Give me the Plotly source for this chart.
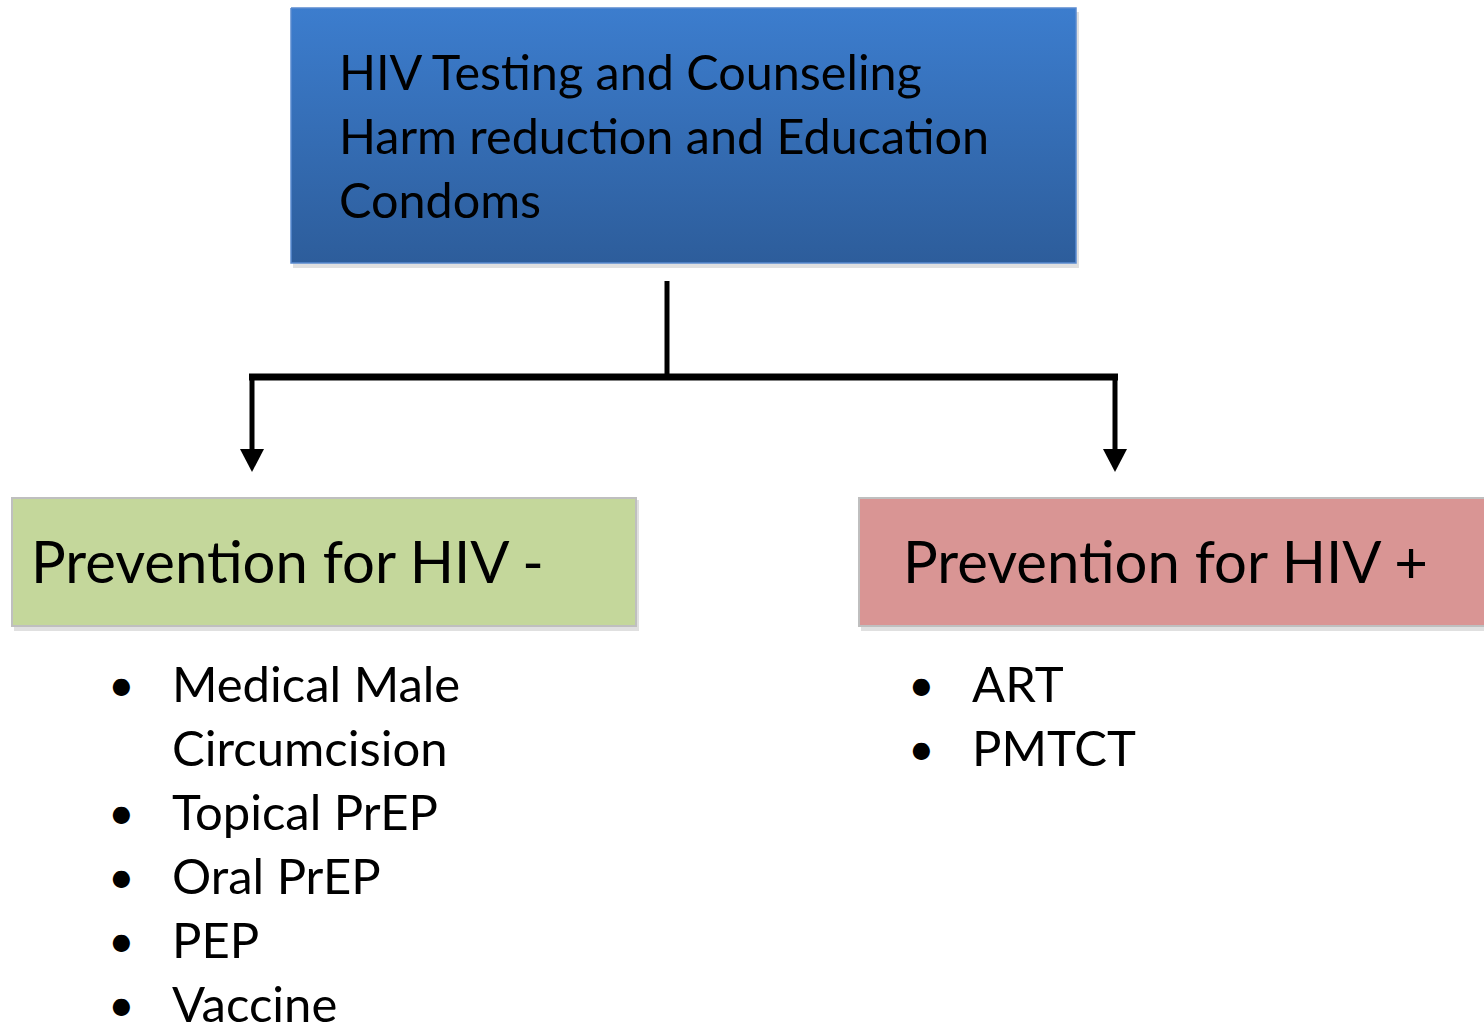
import plotly.graph_objects as go

W, H = 1484, 1023

# Content
top_items = ["HIV Testing and Counseling", "Harm reduction and Education", "Condoms"]
left_header = "Prevention for HIV -"
right_header = "Prevention for HIV +"
left_items = [["Medical Male", "Circumcision"], ["Topical PrEP"], ["Oral PrEP"], ["PEP"], ["Vaccine"]]
right_items = [["ART"], ["PMTCT"]]

FONT = "Lato"
TXT = "#000000"

fig = go.Figure()

# top box with vertical gradient
tx0, tx1, ty0, ty1 = 291, 1076, 8, 263
fig.add_shape(type="rect", x0=tx0 + 2, x1=tx1 + 3, y0=ty0 + 4, y1=ty1 + 5,
              fillcolor="rgba(0,0,0,0.12)", line_width=0, layer="below")
fig.add_trace(go.Scatter(
    x=[tx0, tx1, tx1, tx0, tx0], y=[ty0, ty0, ty1, ty1, ty0],
    mode="lines", fill="toself",
    fillgradient=dict(type="vertical", colorscale=[[0, "#2D5D9B"], [1, "#3C7DCE"]]),
    line=dict(color="#5A8AD0", width=1.5), hoverinfo="skip", showlegend=False))

# connectors
LC = "#000000"
fig.add_shape(type="line", x0=667, x1=667, y0=281, y1=377, line=dict(color=LC, width=5))
fig.add_shape(type="line", x0=249, x1=1118, y0=377, y1=377, line=dict(color=LC, width=7))
for xx in (252, 1115):
    fig.add_shape(type="line", x0=xx, x1=xx, y0=377, y1=452, line=dict(color=LC, width=5))
    fig.add_shape(type="path", path=f"M {xx-12} 449 L {xx+12} 449 L {xx} 472 Z",
                  fillcolor=LC, line_width=0)

# category boxes
boxes = [(12, 636, "#C4D79B", left_header, 29), (859, 1490, "#D99594", right_header, 901)]
for x0, x1, col, label, tx in boxes:
    fig.add_shape(type="rect", x0=x0 + 2, x1=x1 + 3, y0=500, y1=631,
                  fillcolor="rgba(0,0,0,0.12)", line_width=0, layer="below")
    fig.add_shape(type="rect", x0=x0, x1=x1, y0=498, y1=626, fillcolor=col,
                  line=dict(color="#BFBFBF", width=2), layer="below")
    fig.add_annotation(x=tx, y=560, text=label, showarrow=False, xanchor="left",
                       yanchor="middle", font=dict(family=FONT, size=58, color=TXT))

# top text
for i, t in enumerate(top_items):
    fig.add_annotation(x=337, y=71 + 64 * i, text=t, showarrow=False, xanchor="left",
                       yanchor="middle", font=dict(family=FONT, size=48.5, color=TXT))

# bullet lists
def add_list(items, bx, tx):
    row = 0
    for lines in items:
        y = 683 + 64 * row
        fig.add_annotation(x=bx, y=y, text="•", showarrow=False, xanchor="center",
                           yanchor="middle", font=dict(family=FONT, size=46, color=TXT))
        for ln in lines:
            fig.add_annotation(x=tx, y=683 + 64 * row, text=ln, showarrow=False,
                               xanchor="left", yanchor="middle",
                               font=dict(family=FONT, size=49, color=TXT))
            row += 1

add_list(left_items, 121, 170)
add_list(right_items, 921, 970)

fig.update_xaxes(range=[0, W], visible=False, fixedrange=True)
fig.update_yaxes(range=[H, 0], visible=False, fixedrange=True)
fig.update_layout(width=W, height=H, margin=dict(l=0, r=0, t=0, b=0),
                  plot_bgcolor="white", paper_bgcolor="white", showlegend=False)

fig.write_html("out.html", config={"displayModeBar": False},
               post_script="document.body.style.margin='0';document.body.style.overflow='hidden';")
